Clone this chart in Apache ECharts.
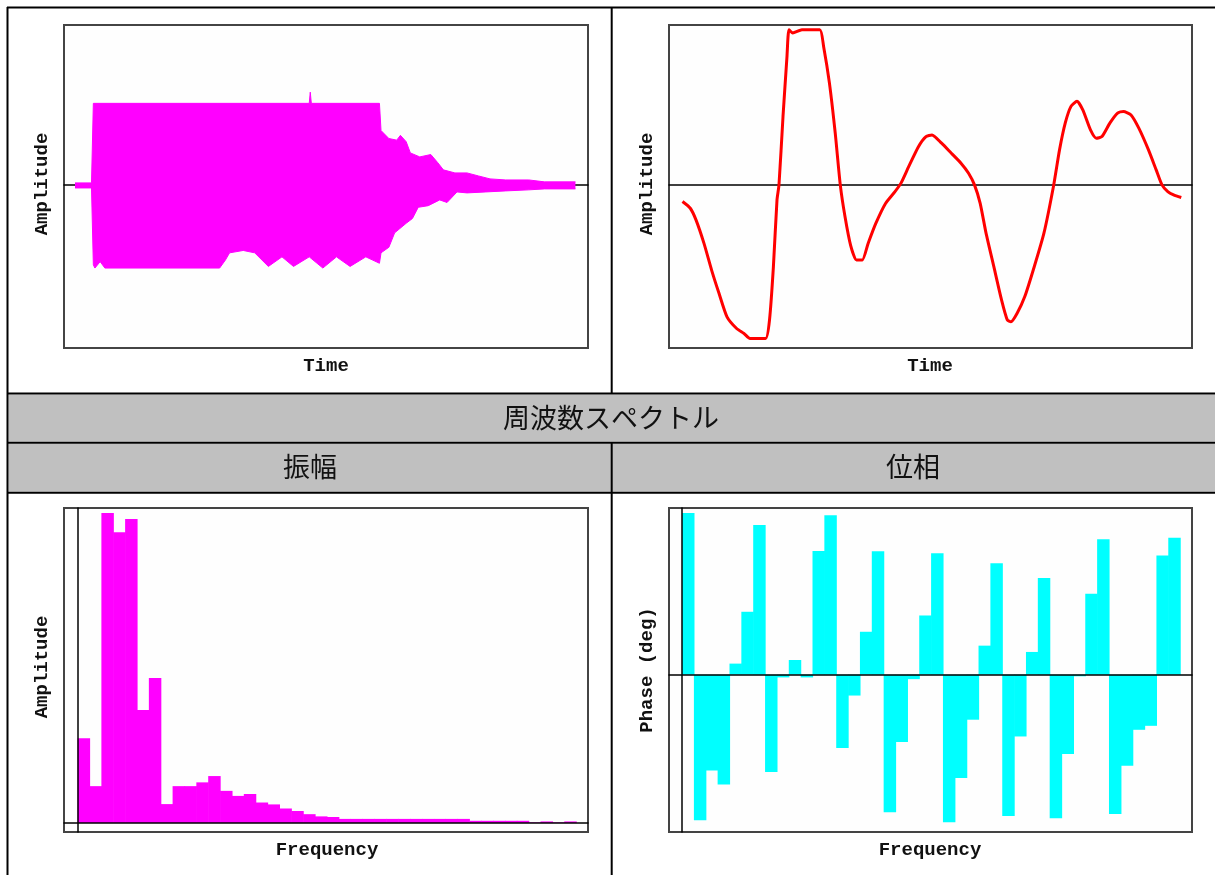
<!DOCTYPE html>
<html>
<head>
<meta charset="utf-8">
<title>周波数スペクトル</title>
<script src="https://cdn.jsdelivr.net/npm/echarts@6/dist/echarts.min.js"></script>
<style>
  html, body { margin: 0; padding: 0; background: #ffffff; }
  #chart { width: 1215px; height: 875px; }
</style>
</head>
<body>
<div id="chart"></div>
<script>
// ---- Time signal: envelope of the recorded waveform (time in %, amplitude normalised) ----
const envUpperTime = [2.1, 5.25, 5.6, 46.8, 47.0, 47.2, 60.2, 60.5, 62.0, 63.5, 64.2, 65.3, 66.1, 67.9, 70.0, 71.3, 72.4, 74.6, 76.9, 79.1, 81.3, 84.3, 88.7, 91.7, 97.6];
const envUpperAmp  = [0.0125, 0.0125, 0.51, 0.51, 0.58, 0.51, 0.51, 0.34, 0.29, 0.28, 0.31, 0.27, 0.20, 0.175, 0.19, 0.14, 0.094, 0.075, 0.075, 0.056, 0.0375, 0.031, 0.031, 0.019, 0.019];
const envLowerTime = [2.1, 5.25, 5.6, 5.9, 6.9, 7.8, 29.7, 30.8, 31.6, 34.2, 36.4, 39.0, 41.6, 43.8, 46.8, 49.4, 52.0, 54.6, 57.6, 60.2, 60.5, 62.0, 63.1, 65.3, 66.5, 67.6, 69.5, 71.7, 73.1, 75.0, 76.9, 80.5, 84.3, 88.7, 91.7, 97.6];
const envLowerAmp  = [-0.019, -0.019, -0.50, -0.52, -0.48, -0.52, -0.52, -0.47, -0.425, -0.41, -0.425, -0.51, -0.45, -0.51, -0.45, -0.52, -0.45, -0.51, -0.45, -0.49, -0.425, -0.39, -0.30, -0.24, -0.21, -0.14, -0.13, -0.094, -0.11, -0.044, -0.05, -0.044, -0.0375, -0.031, -0.025, -0.025];

// ---- Time signal: filtered waveform ----
const waveTime = [2.58, 4.07, 5.16, 6.69, 8.13, 9.56, 11.09, 12.93, 14.34, 15.49, 18.47, 19.22, 19.96, 20.65, 21.03, 21.80, 22.56, 22.94, 23.65, 25.43, 28.83, 29.56, 30.67, 31.78, 32.75, 33.65, 34.74, 35.85, 36.96, 38.07, 39.54, 41.40, 43.21, 44.36, 45.83, 47.69, 49.14, 50.29, 52.12, 53.99, 55.83, 57.28, 58.41, 59.50, 60.61, 62.10, 63.58, 64.68, 65.39, 66.54, 68.01, 69.85, 71.70, 73.56, 74.67, 75.77, 76.86, 78.01, 79.12, 80.59, 81.70, 82.79, 84.32, 85.77, 86.88, 88.34, 89.83, 91.68, 93.15, 94.26, 95.37, 96.48, 97.95];
const waveAmp  = [-0.104, -0.146, -0.219, -0.366, -0.531, -0.678, -0.825, -0.898, -0.929, -0.96, -0.96, -0.844, -0.513, -0.094, 0, 0.428, 0.804, 0.97, 0.95, 0.97, 0.97, 0.866, 0.638, 0.325, 0, -0.198, -0.38, -0.469, -0.469, -0.366, -0.241, -0.116, -0.042, 0.011, 0.114, 0.239, 0.302, 0.3125, 0.261, 0.198, 0.136, 0.073, 0, -0.115, -0.30, -0.51, -0.719, -0.844, -0.856, -0.804, -0.70, -0.51, -0.30, 0, 0.219, 0.3875, 0.491, 0.5225, 0.469, 0.344, 0.292, 0.302, 0.3875, 0.449, 0.459, 0.4375, 0.355, 0.219, 0.094, 0, -0.042, -0.0625, -0.079];

// ---- Frequency spectrum: amplitude per frequency bin (bins 0..41) ----
const specAmplitude = [0.269, 0.117, 0.984, 0.923, 0.965, 0.359, 0.460, 0.060, 0.117, 0.117, 0.129, 0.149, 0.102, 0.086, 0.092, 0.065, 0.059, 0.046, 0.038, 0.028, 0.021, 0.019, 0.013, 0.013, 0.013, 0.013, 0.013, 0.013, 0.013, 0.013, 0.013, 0.013, 0.013, 0.007, 0.007, 0.007, 0.007, 0.007, 0.002, 0.005, 0.002, 0.005];

// ---- Frequency spectrum: phase per frequency bin, degrees ----
const specPhase = [174.6, -157.4, -103.5, -118.6, 11.9, 67.9, 161.7, -105.3, -3.0, 15.8, -3.0, 133.6, 172.1, -79.3, -22.6, 46.3, 133.3, -148.7, -72.9, -4.9, 63.9, 131.2, -159.5, -111.8, -48.7, 31.3, 120.2, -152.6, -66.8, 24.5, 104.5, -155.2, -85.8, -1.8, 87.3, 146.3, -150.5, -98.4, -59.6, -55.3, 128.8, 147.9];

const zip = (xs, ys) => xs.map((x, i) => [x, ys[i]]);
const bins = (vals) => vals.map((v, k) => [k, v]);

const MAGENTA = '#ff00ff';
const CYAN = '#00ffff';
const RED = '#ff0000';
const FRAME = '#444444';
const AXIS_FONT = 'bold 19px "Liberation Mono", "DejaVu Sans Mono", monospace';
const HEAD_FONT = '27px "Noto Sans CJK JP", "Noto Sans", sans-serif';

// Each spectral bin k is drawn as a contiguous block spanning [k, k+1]
function binBlock(color) {
  return function (params, api) {
    const k = api.value(0);
    const v = api.value(1);
    const base = api.coord([k, 0]);
    const tip = api.coord([k + 1, v]);
    return {
      type: 'rect',
      shape: {
        x: base[0],
        y: Math.min(base[1], tip[1]),
        width: tip[0] - base[0] + 0.6,
        height: Math.abs(tip[1] - base[1])
      },
      style: { fill: color }
    };
  };
}

const hidden = { axisTick: { show: false }, axisLabel: { show: false }, splitLine: { show: false } };
const zeroLine = { show: true, onZero: true, lineStyle: { color: '#000', width: 1.5 } };

const grids = [
  { left: 64, top: 25, width: 524, height: 323 },
  { left: 669, top: 25, width: 523, height: 323 },
  { left: 64, top: 508, width: 524, height: 324 },
  { left: 669, top: 508, width: 523, height: 324 }
].map(g => Object.assign({ show: true, borderColor: FRAME, borderWidth: 2, backgroundColor: '#fefefe' }, g));

// Table rules and header cells
const lines = [
  [7, 7.5, 1215, 7.5],
  [7.5, 7, 7.5, 875],
  [611.7, 7, 611.7, 393.5],
  [7, 393.5, 1215, 393.5],
  [7, 442.8, 1215, 442.8],
  [611.7, 442.8, 611.7, 875],
  [7, 492.8, 1215, 492.8]
];

function label(text, x, y, font, rotate) {
  return {
    type: 'text', x: x, y: y, rotation: rotate ? Math.PI / 2 : 0, z: 20,
    style: { text: text, font: font, fill: '#111', align: 'center', verticalAlign: 'middle', textAlign: 'center', textVerticalAlign: 'middle' }
  };
}

const graphics = [
  { type: 'rect', shape: { x: 8.5, y: 394.5, width: 1207, height: 47.3 }, style: { fill: '#c0c0c0' }, z: 1 },
  { type: 'rect', shape: { x: 8.5, y: 443.8, width: 1207, height: 48 }, style: { fill: '#c0c0c0' }, z: 1 }
].concat(lines.map(l => ({
  type: 'line', z: 5,
  shape: { x1: l[0], y1: l[1], x2: l[2], y2: l[3] },
  style: { stroke: '#000', lineWidth: 2 }
}))).concat([
  label('周波数スペクトル', 611, 418, HEAD_FONT),
  label('振幅', 310, 467, HEAD_FONT),
  label('位相', 913, 467, HEAD_FONT),
  label('Time', 326, 366, AXIS_FONT),
  label('Time', 930, 366, AXIS_FONT),
  label('Amplitude', 42, 184, AXIS_FONT, true),
  label('Amplitude', 647, 184, AXIS_FONT, true),
  label('Frequency', 327, 850, AXIS_FONT),
  label('Frequency', 930, 850, AXIS_FONT),
  label('Amplitude', 42, 667, AXIS_FONT, true),
  label('Phase (deg)', 647, 670, AXIS_FONT, true)
]);

const option = {
  animation: false,
  backgroundColor: '#ffffff',
  grid: grids,
  xAxis: [
    Object.assign({ type: 'value', gridIndex: 0, min: 0, max: 100, axisLine: zeroLine }, hidden),
    Object.assign({ type: 'value', gridIndex: 1, min: 0, max: 100, axisLine: zeroLine }, hidden),
    Object.assign({ type: 'value', gridIndex: 2, min: -1.15, max: 43, z: 10, axisLine: zeroLine }, hidden),
    Object.assign({ type: 'value', gridIndex: 3, min: -1.1, max: 43, z: 10, axisLine: zeroLine }, hidden)
  ],
  yAxis: [
    Object.assign({ type: 'value', gridIndex: 0, min: -1.02, max: 1, axisLine: { show: false } }, hidden),
    Object.assign({ type: 'value', gridIndex: 1, min: -1.02, max: 1, axisLine: { show: false } }, hidden),
    Object.assign({ type: 'value', gridIndex: 2, min: -0.0286, max: 1, z: 10, axisLine: zeroLine }, hidden),
    Object.assign({ type: 'value', gridIndex: 3, min: -170, max: 180, z: 10, axisLine: zeroLine }, hidden)
  ],
  series: [
    {
      type: 'line', xAxisIndex: 0, yAxisIndex: 0, symbol: 'none',
      data: zip(envUpperTime, envUpperAmp),
      lineStyle: { color: MAGENTA, width: 1 }, areaStyle: { color: MAGENTA, opacity: 1 }
    },
    {
      type: 'line', xAxisIndex: 0, yAxisIndex: 0, symbol: 'none',
      data: zip(envLowerTime, envLowerAmp),
      lineStyle: { color: MAGENTA, width: 1 }, areaStyle: { color: MAGENTA, opacity: 1 }
    },
    {
      type: 'line', xAxisIndex: 1, yAxisIndex: 1, symbol: 'none', smooth: 0.2,
      data: zip(waveTime, waveAmp),
      lineStyle: { color: RED, width: 3 }
    },
    {
      type: 'custom', xAxisIndex: 2, yAxisIndex: 2, clip: true,
      renderItem: binBlock(MAGENTA), encode: { x: 0, y: 1 },
      data: bins(specAmplitude)
    },
    {
      type: 'custom', xAxisIndex: 3, yAxisIndex: 3, clip: true,
      renderItem: binBlock(CYAN), encode: { x: 0, y: 1 },
      data: bins(specPhase)
    }
  ],
  graphic: { elements: graphics }
};

const chart = echarts.init(document.getElementById('chart'), null, { renderer: 'canvas' });
chart.setOption(option);
</script>
</body>
</html>
